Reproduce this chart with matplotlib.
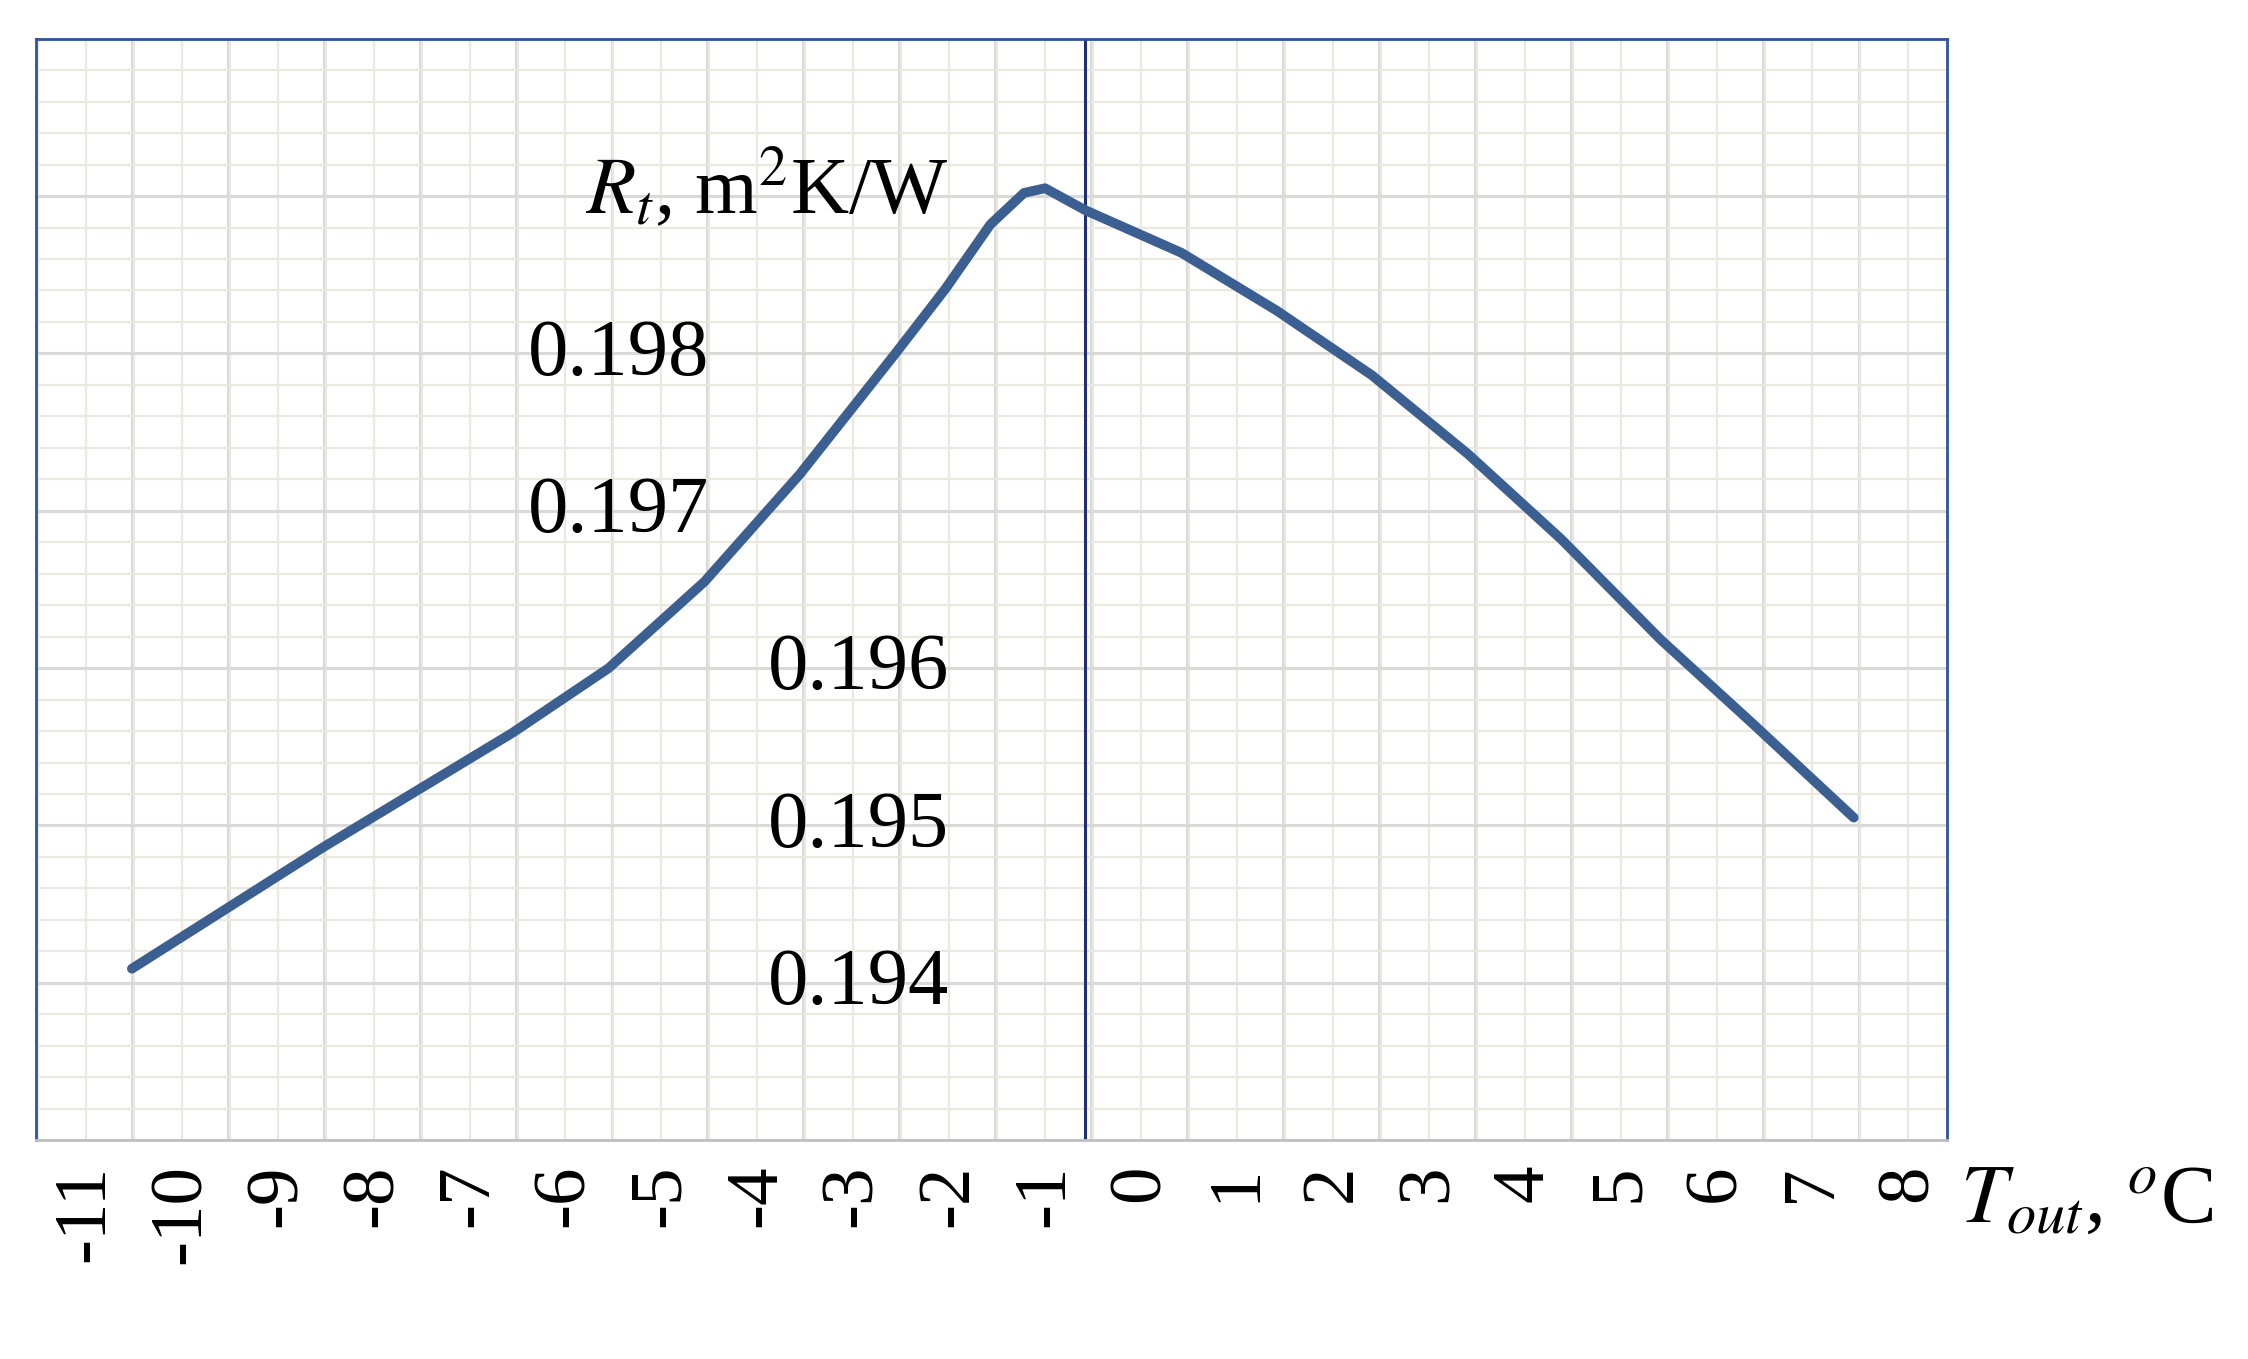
import matplotlib
matplotlib.use("Agg")
import matplotlib.pyplot as plt
from matplotlib.ticker import MultipleLocator
import matplotlib.transforms as mtr

t_out = [-10.52, -8.53, -6.55, -5.55, -4.55, -3.56, -2.56, -2.04, -1.57, -1.22, -1.0, -0.58,
         0.42, 1.42, 2.41, 3.41, 4.38, 5.42, 6.39, 7.43]
r_t = [0.19409, 0.19486, 0.19559, 0.19600, 0.19655, 0.19723, 0.19800, 0.19841, 0.19882, 0.19902,
       0.19905, 0.19891, 0.19864, 0.19827, 0.19786, 0.19736, 0.19682, 0.19618, 0.19564, 0.19505]
x_labels = list(range(-11, 9))
y_labels = [0.198, 0.197, 0.196, 0.195, 0.194]

plt.rcParams['font.family'] = ['Liberation Serif', 'DejaVu Serif']
plt.rcParams['mathtext.fontset'] = 'stix'

fig = plt.figure(figsize=(22.48, 13.59), dpi=100)
ax = fig.add_axes([0.016, 0.161, 0.85, 0.8105])
ax.set_xlim(-11.52, 8.4)
ax.set_ylim(0.193, 0.200)
ax.xaxis.set_minor_locator(MultipleLocator(0.5))
ax.yaxis.set_major_locator(MultipleLocator(0.001))
ax.yaxis.set_minor_locator(MultipleLocator(0.0002))
ax.set_xticks([v + 0.48 for v in x_labels if v + 0.48 < 8.4])
ax.grid(True, which='major', color='#d9d9d9', lw=2.2)
ax.grid(True, which='minor', color='#ebe8e0', lw=1.6)
ax.tick_params(which='both', length=0, labelbottom=False, labelleft=False)
for s in ax.spines.values():
    s.set_color('#2f5597'); s.set_linewidth(2)
ax.spines['bottom'].set_color('#bfbfbf')
ax.axvline(-0.58, color='#1f3070', lw=2.2)
ax.plot(t_out, r_t, color='#3b5f91', lw=7, solid_capstyle='round', solid_joinstyle='round', zorder=5)

tr = mtr.blended_transform_factory(ax.transData, ax.transAxes)
for v in x_labels:
    ax.text(v, -0.022, str(v), rotation=90, ha='center', va='top', fontsize=54, transform=tr)
for i, v in enumerate(y_labels):
    xr = -4.5 if i < 2 else -2.0
    ax.text(xr, v - 0.00001, f"{v:.3f}", ha='right', va='center', fontsize=58)
ax.text(-2.0, 0.19905, r"$\mathit{R_t}$, m$^2$K/W", ha='right', va='center', fontsize=58)
fig.text(0.872, 0.115, r"$\mathit{T_{out}}$, $^{o}$C", ha='left', va='center', fontsize=60)
fig.savefig("out.png", dpi=100)
